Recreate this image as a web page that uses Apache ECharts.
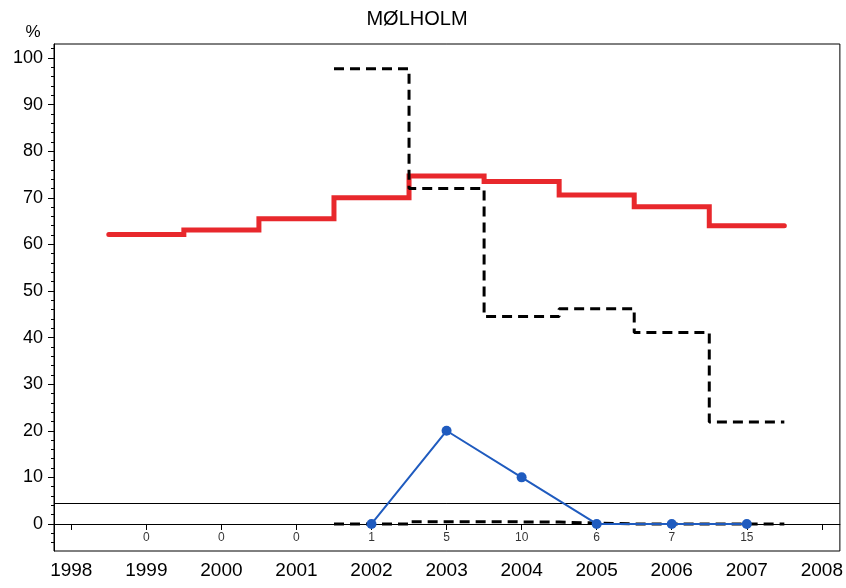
<!DOCTYPE html>
<html>
<head>
<meta charset="utf-8">
<script src="https://cdn.jsdelivr.net/npm/echarts@6/dist/echarts.min.js"></script>
<style>html,body{margin:0;padding:0;background:#fff}#c{width:846px;height:588px}</style>
</head>
<body>
<div id="c"></div>
<script>
var years = [1999, 2000, 2001, 2002, 2003, 2004, 2005, 2006, 2007];
var redValues = [62.1, 63.1, 65.5, 70.0, 74.7, 73.5, 70.6, 68.1, 64.0];
var countLabels = [0, 0, 0, 1, 5, 10, 6, 7, 15];
var dashYears = [2002, 2003, 2004, 2005, 2006, 2007];
var upperDash = [97.7, 72.0, 44.5, 46.2, 41.1, 21.9];
var lowerDash = [0, 0.5, 0.4, 0, 0, 0];
var blueYears = [2002, 2003, 2004, 2005, 2006, 2007];
var blueValues = [0, 20, 10, 0, 0, 0];
var xTicks = [1998, 1999, 2000, 2001, 2002, 2003, 2004, 2005, 2006, 2007, 2008];
var yTicks = [0, 10, 20, 30, 40, 50, 60, 70, 80, 90, 100];
var yMinorTicks = [-4, -2, 2, 4, 6, 8, 12, 14, 16, 18, 22, 24, 26, 28, 32, 34, 36, 38, 42, 44, 46, 48, 52, 54, 56, 58, 62, 64, 66, 68, 72, 74, 76, 78, 82, 84, 86, 88, 92, 94, 96, 98, 102];
var refLine = 4.4;
var countRow = -3;
var title = 'MØLHOLM';

function steps(xs, vs) {
  var out = [];
  for (var i = 0; i < xs.length; i++) {
    out.push([xs[i] - 0.5, vs[i]]);
    out.push([xs[i] + 0.5, vs[i]]);
  }
  return out;
}
function pairs(xs, vs) { return xs.map(function (x, i) { return [x, vs[i]]; }); }

var FONT = '"Liberation Sans", Arial, sans-serif';
var XMIN = 1997.77, XMAX = 2008.24, YMIN = -5.8, YMAX = 103;

var chart = echarts.init(document.getElementById('c'), null, {renderer: 'canvas'});
chart.setOption({
  animation: false,
  backgroundColor: '#fff',
  grid: {left: 54, right: 5, top: 44, bottom: 37, show: true, borderColor: '#000', borderWidth: 1, backgroundColor: 'transparent'},
  graphic: [
    {type: 'text', x: 417, y: 9, style: {text: title, font: '20px ' + FONT, fill: '#000', textAlign: 'center'}},
    {type: 'text', x: 33, y: 32, style: {text: '%', font: '17px ' + FONT, fill: '#000', textAlign: 'center', textVerticalAlign: 'middle'}}
  ],
  xAxis: {
    type: 'value', min: XMIN, max: XMAX,
    axisLine: {show: true, lineStyle: {color: '#000', width: 1}},
    axisTick: {show: true, inside: false, length: 6, lineStyle: {color: '#000'}, customValues: xTicks},
    axisLabel: {show: true, color: '#000', fontFamily: FONT, fontSize: 19, margin: 10, customValues: xTicks, formatter: function (v) { return String(v); }},
    splitLine: {show: false}
  },
  yAxis: [
    {
      type: 'value', min: YMIN, max: YMAX,
      axisLine: {show: true, lineStyle: {color: '#000', width: 1}},
      axisTick: {show: true, inside: false, length: 6, lineStyle: {color: '#000'}, customValues: yTicks},
      axisLabel: {show: true, color: '#000', fontFamily: FONT, fontSize: 18, margin: 11, customValues: yTicks},
      splitLine: {show: false}
    },
    {
      type: 'value', min: YMIN, max: YMAX, position: 'left', offset: 0,
      axisLine: {show: false},
      axisTick: {show: true, inside: false, length: 3, lineStyle: {color: '#000'}, customValues: yMinorTicks},
      axisLabel: {show: false},
      splitLine: {show: false}
    }
  ],
  series: [
    {
      type: 'line', data: steps(years, redValues), symbol: 'none',
      lineStyle: {color: '#e8282c', width: 5, cap: 'round', join: 'miter'}, z: 3,
      markLine: {
        silent: true, symbol: ['none', 'none'], label: {show: false},
        lineStyle: {color: '#000', width: 1, type: 'solid'},
        data: [{yAxis: refLine}]
      }
    },
    {
      type: 'line', data: steps(dashYears, upperDash), symbol: 'none',
      lineStyle: {color: '#000', width: 3, type: [10, 6]}, z: 4
    },
    {
      type: 'line', data: steps(dashYears, lowerDash), symbol: 'none',
      lineStyle: {color: '#000', width: 3, type: [10, 6]}, z: 4
    },
    {
      type: 'line', data: pairs(blueYears, blueValues), symbol: 'circle', symbolSize: 10,
      itemStyle: {color: '#1f5bbf'}, lineStyle: {color: '#1f5bbf', width: 2}, z: 5
    },
    {
      type: 'scatter', symbolSize: 0,
      data: years.map(function (y, i) { return {value: [y, countRow], label: {formatter: String(countLabels[i])}}; }),
      label: {show: true, position: 'inside', color: '#000', fontFamily: FONT, fontSize: 12}
    }
  ]
});
</script>
</body>
</html>
